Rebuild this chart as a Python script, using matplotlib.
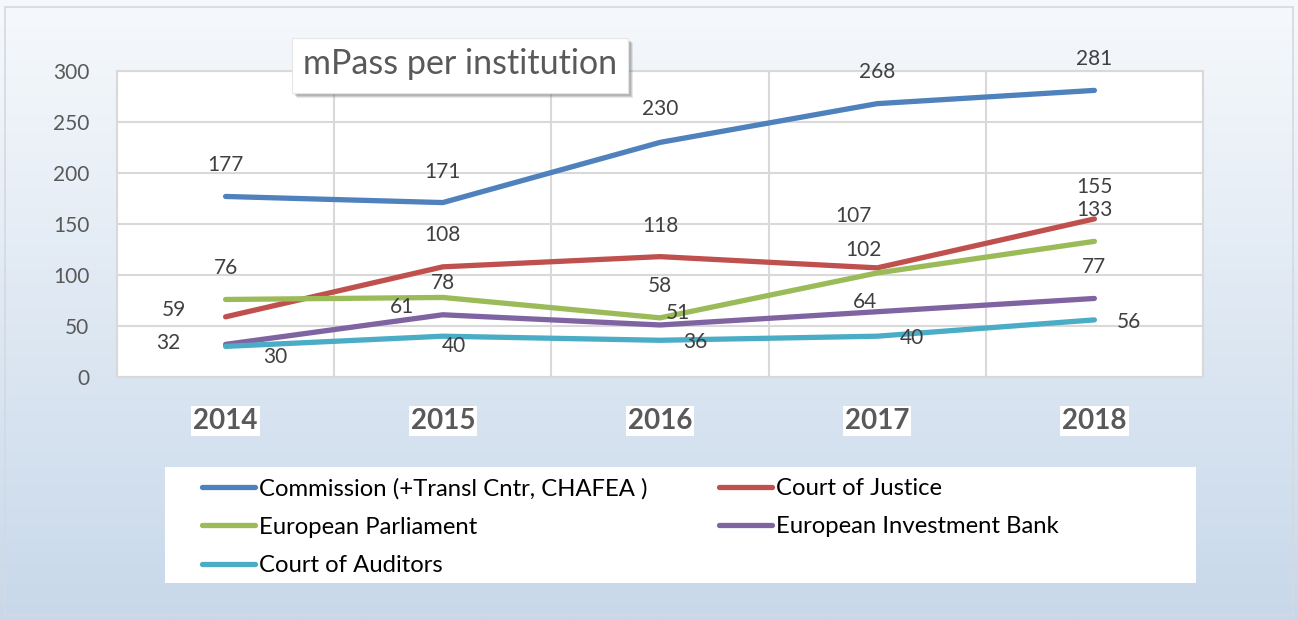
import numpy as np
import matplotlib
matplotlib.use("Agg")
import matplotlib.pyplot as plt
from matplotlib.patches import Rectangle

years = ["2014", "2015", "2016", "2017", "2018"]
series_names = ["Commission (+Transl Cntr, CHAFEA )", "Court of Justice",
                "European Parliament", "European Investment Bank", "Court of Auditors"]
commission = [177, 171, 230, 268, 281]
court_justice = [59, 108, 118, 107, 155]
parliament = [76, 78, 58, 102, 133]
invest_bank = [32, 61, 51, 64, 77]
auditors = [30, 40, 36, 40, 56]
yticks = [0, 50, 100, 150, 200, 250, 300]
title = "mPass per institution"

colors = ["#4F81BD", "#C0504D", "#9BBB59", "#8064A2", "#4BACC6"]
all_series = [commission, court_justice, parliament, invest_bank, auditors]
# label offsets in pixels (dx, dy) for each series point
offsets = [
    [(0, 31), (0, 31), (0, 33), (0, 32), (0, 31)],
    [(-52, 7), (0, 32), (0, 31), (-24, 52), (0, 32)],
    [(0, 31), (0, 14), (0, 32), (-14, 23), (0, 31)],
    [(-57, 1), (-41, 8), (18, 12), (-12, 10), (0, 31)],
    [(50, -11), (11, -10), (35, -2), (35, -2), (35, -2)],
]

plt.rcParams['font.family'] = ['Lato', 'DejaVu Sans']
W, H = 1298, 620
fig = plt.figure(figsize=(W / 100, H / 100), dpi=100)

# background gradient
bg = fig.add_axes([0, 0, 1, 1], zorder=-10)
grad = np.linspace(0, 1, 256).reshape(-1, 1)
top = np.array([0xf6, 0xf9, 0xfc]) / 255
bot = np.array([0xc8, 0xd8, 0xea]) / 255
img = top[None, None, :] * (1 - grad[..., None]) + bot[None, None, :] * grad[..., None]
bg.imshow(img, aspect='auto', extent=[0, 1, 0, 1], origin='upper')
bg.add_patch(Rectangle((5 / W, 1 - 615 / H), 1288 / W, 608 / H, fill=False,
                       edgecolor='#d4d9e0', linewidth=1.2))
bg.set_xlim(0, 1)
bg.set_ylim(0, 1)
bg.axis('off')

ax = fig.add_axes([117 / W, 1 - 377 / H, 1086 / W, 306 / H])
ax.set_facecolor('white')
x = np.arange(len(years))
handles = []
for vals, name, c, offs in zip(all_series, series_names, colors, offsets):
    h, = ax.plot(x, vals, color=c, lw=3.8, solid_capstyle='round', label=name, zorder=3)
    handles.append(h)
    for xi, v, (dx, dy) in zip(x, vals, offs):
        ax.annotate(str(v), (xi, v), xytext=(dx, dy), textcoords='offset pixels',
                    ha='center', va='center', fontsize=15, color='#404040', zorder=4)

ax.set_xlim(-0.5, len(years) - 0.5)
ax.set_ylim(0, 300)
ax.set_yticks(yticks)
ax.set_xticks(x)
ax.set_xticklabels(years)
ax.set_xticks(np.arange(len(years) + 1) - 0.5, minor=True)
ax.grid(True, which='minor', axis='x', color='#d9d9d9', lw=1.5)
ax.grid(True, which='major', axis='y', color='#d9d9d9', lw=1.5)
ax.set_axisbelow(True)
for s in ax.spines.values():
    s.set_color('#d9d9d9')
    s.set_linewidth(1.5)
ax.tick_params(axis='both', which='both', length=0)
ax.tick_params(axis='y', labelsize=15, labelcolor='#595959', pad=20)
ax.tick_params(axis='x', which='major', labelsize=20, labelcolor='#595959', pad=22)
for lab in ax.get_xticklabels():
    lab.set_fontweight('bold')
    lab.set_bbox(dict(facecolor='white', edgecolor='none', pad=1.5))

# title box with shadow
tx0, ty0, tw, th = 292 / W, 1 - 93 / H, 336 / W, 55 / H
for k, a in [(5, 0.18), (4, 0.25), (3, 0.3)]:
    fig.patches.append(Rectangle((tx0 + k / W, ty0 - k / H), tw, th, facecolor='#808080',
                                 edgecolor='none', alpha=a, transform=fig.transFigure, zorder=20))
fig.patches.append(Rectangle((tx0, ty0), tw, th, facecolor='white',
                             edgecolor='#e6e6e6', lw=0.8, transform=fig.transFigure, zorder=21))
fig.text(tx0 + tw / 2, ty0 + th / 2 + 1 / H, title, ha='center', va='center', fontsize=24.5,
         color='#595959', zorder=22)

# legend frame
fig.patches.append(Rectangle((165 / W, 1 - 583 / H), 1031 / W, 116 / H, facecolor='white',
                             edgecolor='none', transform=fig.transFigure, zorder=5))
leg_kw = dict(loc='upper left', frameon=False, fontsize=17.2, handlelength=2.2,
              handletextpad=0.2, labelspacing=0.72, borderpad=0, borderaxespad=0)
col1 = [handles[0], handles[2], handles[4]]
col2 = [handles[1], handles[3]]
leg1 = fig.legend(col1, [h.get_label() for h in col1],
                  bbox_to_anchor=(202 / W, 1 - 478 / H), **leg_kw)
leg2 = fig.legend(col2, [h.get_label() for h in col2],
                  bbox_to_anchor=(719 / W, 1 - 478 / H), **leg_kw)
for leg in (leg1, leg2):
    leg.set_zorder(6)
    for line in leg.get_lines():
        line.set_linewidth(3.8)
        line.set_solid_capstyle('round')
    for t in leg.get_texts():
        t.set_color('black')

fig.savefig('out.png', dpi=100)
